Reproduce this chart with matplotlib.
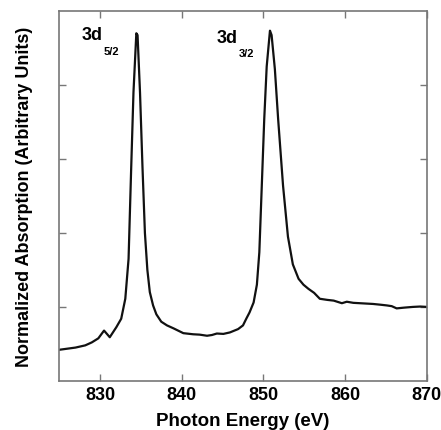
import numpy as np
import matplotlib.pyplot as plt

plt.rcParams['font.family'] = ['Liberation Sans', 'DejaVu Sans']

# Absorption spectrum
energy = [825.0, 826.0, 827.0, 827.6, 828.2, 829.0, 829.8, 830.5, 831.2, 832.0,
          832.6, 833.1, 833.5, 833.8, 834.1, 834.45, 834.6, 834.9, 835.2, 835.5,
          835.8, 836.1, 836.5, 836.9, 837.5, 838.2, 839.0, 840.2, 841.4, 842.2,
          843.1, 843.7, 844.3, 845.1, 845.9, 846.9, 847.5, 847.9, 848.3, 848.8,
          849.2, 849.5, 849.8, 850.1, 850.4, 850.8, 851.0, 851.4, 851.8, 852.4,
          853.0, 853.6, 854.3, 854.9, 855.5, 856.2, 856.9, 857.8, 858.6, 859.6,
          860.2, 861.0, 861.8, 862.6, 863.4, 864.3, 865.1, 865.7, 866.3, 867.2,
          868.3, 869.2, 870.0]
absorption = [0.084, 0.087, 0.090, 0.093, 0.096, 0.104, 0.115, 0.136, 0.118, 0.145,
              0.168, 0.222, 0.330, 0.560, 0.780, 0.940, 0.935, 0.780, 0.580, 0.400,
              0.300, 0.240, 0.204, 0.180, 0.160, 0.150, 0.142, 0.129, 0.126, 0.125,
              0.122, 0.124, 0.128, 0.127, 0.131, 0.140, 0.150, 0.168, 0.185, 0.212,
              0.260, 0.348, 0.528, 0.708, 0.850, 0.947, 0.935, 0.843, 0.708, 0.528,
              0.390, 0.315, 0.276, 0.260, 0.249, 0.238, 0.222, 0.219, 0.217, 0.210,
              0.214, 0.211, 0.210, 0.209, 0.208, 0.206, 0.204, 0.202, 0.196, 0.198,
              0.200, 0.201, 0.200]

fig = plt.figure(figsize=(4.41, 4.31), dpi=100)
ax = fig.add_axes([0.134, 0.114, 0.834, 0.858])

ax.plot(energy, absorption, color='#111111', lw=1.6)

ax.set_xlim(825, 870)
ax.set_ylim(0, 1)
ax.set_xticks([830, 840, 850, 860, 870])
ax.set_yticks([0.2, 0.4, 0.6, 0.8])
ax.set_yticklabels([])
ax.tick_params(direction='in', top=True, right=True, length=5, width=1,
               color='#777777', labelsize=13, pad=4)
for lbl in ax.get_xticklabels():
    lbl.set_fontweight('bold')
for s in ax.spines.values():
    s.set_color('#777777')
    s.set_linewidth(1.2)

ax.set_xlabel('Photon Energy (eV)', fontsize=13.5, fontweight='bold', labelpad=6)
ax.set_ylabel('Normalized Absorption (Arbitrary Units)', fontsize=13,
              fontweight='bold', labelpad=15)

ax.text(827.8, 0.936, '3d', fontsize=13, fontweight='bold', va='center')
ax.text(830.4, 0.893, '5/2', fontsize=8, fontweight='bold', va='center')
ax.text(844.3, 0.928, '3d', fontsize=13, fontweight='bold', va='center')
ax.text(847.0, 0.887, '3/2', fontsize=8, fontweight='bold', va='center')

fig.savefig('out.png', dpi=100)
